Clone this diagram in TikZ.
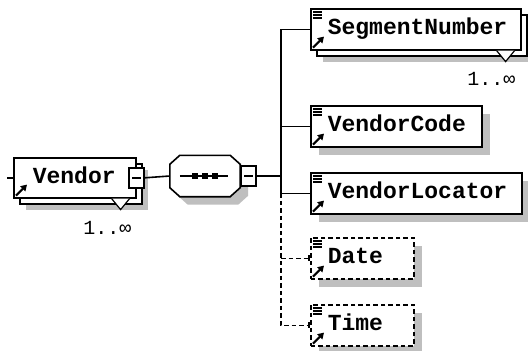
\documentclass[tikz,border=0pt]{standalone}
\usepackage{fontspec}
\setmonofont{Liberation Mono}
\usetikzlibrary{arrows.meta, calc, shadows}
\tikzset{
  elem/.style={
    draw, line width=1.6pt, fill=white, anchor=north west,
    inner xsep=17pt, inner ysep=0pt, align=left, minimum height=41pt,
    text height=16pt, text depth=5pt,
    font=\ttfamily\bfseries\fontsize{23}{24}\selectfont
  },
  single/.style={elem,
    drop shadow={shadow xshift=8pt, shadow yshift=-8pt, fill=black!25, opacity=1}},
  multi/.style={elem,
    drop shadow={shadow xshift=12pt, shadow yshift=-12pt, fill=black!25, opacity=1},
    copy shadow={shadow xshift=6pt, shadow yshift=-6pt, draw, fill=white}},
  optional/.style={single, dash pattern=on 4.5pt off 3pt},
  minus/.style={
    draw, line width=1.6pt, fill=white, inner sep=0pt,
    minimum width=15pt, minimum height=20pt,
    path picture={\draw[line width=1.6pt] ($(path picture bounding box.west)+(3,0)$) -- ($(path picture bounding box.east)+(-3,0)$);}
  },
  mult/.style={font=\ttfamily\fontsize{20}{20}\selectfont, inner sep=0pt, anchor=east},
}

\begin{document}
\begin{tikzpicture}[
    x=1pt, y=-1pt,
    conn/.style={line width=1.6pt},
    opt/.style={dash pattern=on 4.5pt off 3pt},
    icon/.style={line width=2.2pt, -{Triangle[length=6pt,width=7pt]}},
    seqbox/.style={minimum width=70pt, minimum height=41pt, inner sep=0pt},
    seqline/.style={draw, line width=1.6pt, fill=white,
        drop shadow={shadow xshift=8pt, shadow yshift=-8pt, fill=black!25, opacity=1}}
]
\path[use as bounding box, fill=white] (0,0) rectangle (528,351);

\node[multi, inner xsep=19pt, text width=84pt, minimum height=40pt] (vendor) at (13,157) {Vendor};
\node[minus] (vmin) at (vendor.east) {};

\node[seqbox] (seq) at (205,176) {};
\path[seqline] ($(seq.north west)+(0,9)$) -- ($(seq.north west)+(10,0)$)
  -- ($(seq.north east)+(-10,0)$) -- ($(seq.north east)+(0,9)$)
  -- ($(seq.south east)+(0,-9)$) -- ($(seq.south east)+(-10,0)$)
  -- ($(seq.south west)+(10,0)$) -- ($(seq.south west)+(0,-9)$) -- cycle;
\node[minus, anchor=west] (smin) at (seq.east) {};

\node[multi, text width=176pt] (segnum) at (310,8) {SegmentNumber};
\node[single, text width=137pt] (vcode) at (310,105) {VendorCode};
\node[single, text width=177pt] (vloc) at (310,172) {VendorLocator};
\node[optional, text width=69pt] (date) at (310,237) {Date};
\node[optional, text width=69pt] (time) at (310,304) {Time};

\draw[conn] ($(seq.west)+(10,0)$) -- ($(seq.east)+(-12,0)$);
\foreach \dx in {-10,0,10}
  \fill ($(seq.center)+(\dx,0)$) +(-3,-3) rectangle +(3,3);

\foreach \n in {vendor,segnum}
  \filldraw[fill=white, line width=1.2pt] ($(\n.south east)+(-25,0)$) -- ($(\n.south east)+(-16,11)$) -- ($(\n.south east)+(-7,0)$);

\foreach \n in {segnum,vcode,vloc,date,time}{
  \foreach \dy in {4,7,10}
    \draw[line width=1.5pt] ($(\n.north west)+(3,\dy)$) -- +(9,0);
  \draw[icon] ($(\n.south west)+(3,-3)$) -- +(11,-11);
}
\draw[icon] ($(vendor.south west)+(3,-3)$) -- +(11,-11);

\node[mult] (vmult) at ($(vendor.south east)+(-5,29)$) {1..∞};
\node[mult] (smult) at ($(segnum.south east)+(-6,28)$) {1..∞};

\coordinate (in) at ($(vendor.west)+(-6,0)$);
\coordinate (trunk) at (281,0);
\draw[conn] (in) -- (vendor.west);
\draw[conn] (vmin.east) -- (seq.west);
\draw[conn] (smin.east) -- (smin.east -| trunk);
\draw[conn] (segnum.west) -- (segnum.west -| trunk) -- (vloc.west -| trunk) -- (vloc.west);
\draw[conn] (vcode.west -| trunk) -- (vcode.west);
\draw[conn, opt] (vloc.west -| trunk) -- (time.west -| trunk) -- (time.west);
\draw[conn, opt] (date.west -| trunk) -- (date.west);
\draw[conn, -{Bar[width=6pt]}] ($(date.west)+(-2,0)$) -- (date.west);
\draw[conn, -{Bar[width=6pt]}] ($(time.west)+(-2,0)$) -- (time.west);

\end{tikzpicture}
\end{document}
